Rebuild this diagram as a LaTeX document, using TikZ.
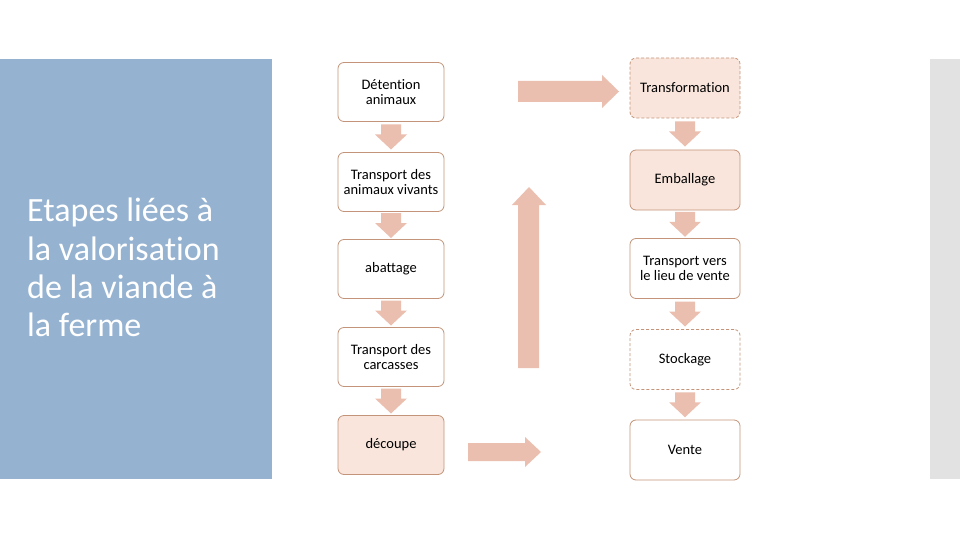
\documentclass[tikz,border=0pt]{standalone}
\usepackage{fontspec}
\setmainfont{Carlito}[Ligatures={NoCommon}]
\usetikzlibrary{calc}
\definecolor{panel}{HTML}{95B3D1}
\definecolor{strip}{HTML}{E2E2E2}
\definecolor{arr}{HTML}{EBBFAF}
\definecolor{bord}{HTML}{C39479}
\definecolor{peach}{HTML}{F9E5DB}
\tikzset{
  x=1pt,y=-1pt,
  box/.style={draw=bord, line width=0.8pt, rounded corners=6pt, align=center,
    font=\fontsize{14.5}{15.5}\selectfont, text=black, inner sep=2pt},
  lbox/.style={box, minimum width=106pt, minimum height=59pt},
  rbox/.style={box, minimum width=110pt, minimum height=60pt},
  dashbox/.style={dash pattern=on 3pt off 2pt},
  downarr/.pic={\fill[arr] (-10,-12.5) -- (10,-12.5) -- (10,-2.5) -- (16,-2.5) -- (0,12.5) -- (-16,-2.5) -- (-10,-2.5) -- cycle;},
}
\begin{document}
\begin{tikzpicture}
\useasboundingbox (0,0) rectangle (960,540);
\fill[white] (0,0) rectangle (960,540);
\fill[panel] (0,59) rectangle (272,479);
\fill[strip] (930,59) rectangle (960,479);
\node[anchor=north west, align=left, text=white, font=\fontsize{34}{38.3}\selectfont, inner sep=0pt] (title) at (27,198)
  {Etapes liées à\\la valorisation\\de la viande à\\la ferme};

\node[lbox, fill=white] (l1) at (391,92) {Détention\\animaux};
\node[lbox, fill=white] (l2) at (391,182) {Transport des\\animaux vivants};
\node[lbox, fill=white] (l3) at (391,269) {abattage};
\node[lbox, fill=white] (l4) at (391,357) {Transport des\\carcasses};
\node[lbox, fill=peach] (l5) at (391,445) {découpe};

\node[rbox, fill=peach, dashbox] (r1) at (685,88) {Transformation};
\node[rbox, fill=peach] (r2) at (685,180) {Emballage};
\node[rbox, fill=white] (r3) at (685,268.5) {Transport vers\\le lieu de vente};
\node[rbox, fill=white, dashbox] (r4) at (685,359.5) {Stockage};
\node[rbox, fill=white] (r5) at (685,450) {Vente};

\foreach \a/\b in {l1/l2,l2/l3,l3/l4,l4/l5,r1/r2,r2/r3,r3/r4,r4/r5}
  \path ($(\a.south)!0.5!(\b.north)$) pic {downarr};

% big arrows
\fill[arr] (518,81) -- (602,81) -- (602,75) -- (619,91.5) -- (602,108) -- (602,102) -- (518,102) -- cycle;
\fill[arr] (518,368) -- (518,205) -- (512,205) -- (529,187) -- (546,205) -- (539,205) -- (539,368) -- cycle;
\fill[arr] (468,443) -- (525,443) -- (525,437) -- (541,452) -- (525,467) -- (525,461) -- (468,461) -- cycle;
\end{tikzpicture}
\end{document}
